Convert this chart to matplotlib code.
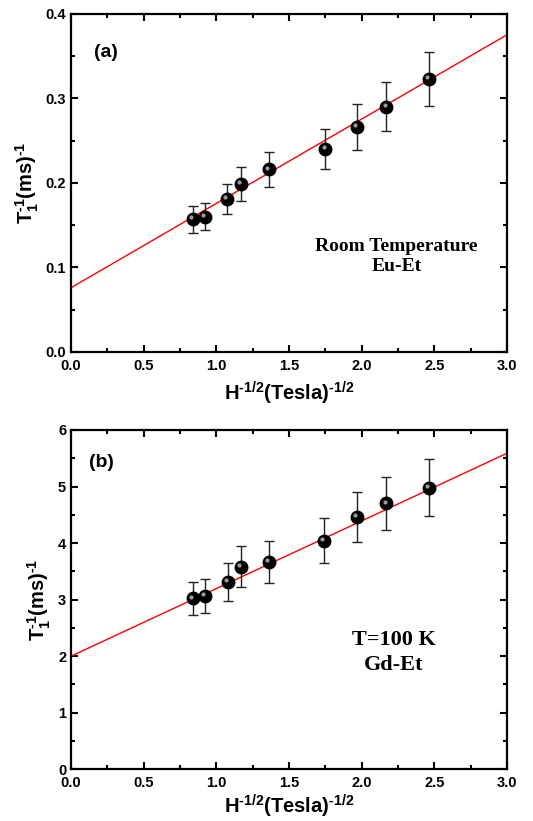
import numpy as np
import matplotlib
matplotlib.use('Agg')
import matplotlib.pyplot as plt
import matplotlib.transforms as mtransforms
from matplotlib.ticker import MultipleLocator

# data
h_a = [0.84, 0.92, 1.07, 1.17, 1.36, 1.75, 1.97, 2.17, 2.46]
rate_a = [0.157, 0.160, 0.181, 0.199, 0.216, 0.240, 0.266, 0.290, 0.323]
err_a = [0.016, 0.016, 0.018, 0.020, 0.021, 0.024, 0.027, 0.029, 0.032]
fit_a = (0.076, 0.0998)  # intercept, slope

h_b = [0.84, 0.92, 1.08, 1.17, 1.36, 1.74, 1.97, 2.17, 2.46]
rate_b = [3.02, 3.06, 3.31, 3.58, 3.67, 4.04, 4.46, 4.70, 4.98]
err_b = [0.30, 0.30, 0.33, 0.36, 0.37, 0.40, 0.45, 0.47, 0.50]
fit_b = (2.0, 1.196)

plt.rcParams['font.family'] = 'Liberation Sans'
plt.rcParams['font.weight'] = 'bold'
plt.rcParams['mathtext.fontset'] = 'custom'
plt.rcParams['mathtext.rm'] = 'Liberation Sans:bold'
plt.rcParams['mathtext.bf'] = 'Liberation Sans:bold'
plt.rcParams['mathtext.default'] = 'bf'

XLAB = r'H$^{\text{-1/2}}$(Tesla)$^{\text{-1/2}}$'
YLAB = r'T$_1^{\text{-1}}$(ms)$^{\text{-1}}$'

fig = plt.figure(figsize=(5.33, 8.21), dpi=100)
ax1 = fig.add_axes([0.1332, 0.5713, 0.818, 0.4117])
ax2 = fig.add_axes([0.1332, 0.0630, 0.818, 0.4133])


def panel(ax, x, y, e, fit, ymax, ymajor, yminor, yfmt, tag, tag_xy, note, note_xy,
          note_size, note_ls, xpad, ypad):
    xx = np.array([0.0, 3.0])
    ax.plot(xx, fit[0] + fit[1] * xx, color='red', lw=1.0, zorder=2)
    ax.errorbar(x, y, yerr=e, fmt='none', ecolor='#222222', elinewidth=1.0,
                capsize=3.5, capthick=1.0, zorder=3)
    ax.plot(x, y, 'o', color='black', ms=9, zorder=4)
    # small highlight to mimic the shaded spheres
    hl = mtransforms.offset_copy(ax.transData, fig=fig, x=-1.3, y=1.3, units='points')
    ax.plot(x, y, 'o', color='#9a9a9a', ms=3.0, mec='none', transform=hl, zorder=5)

    ax.set_xlim(0, 3.0)
    ax.set_ylim(0, ymax)
    ax.xaxis.set_major_locator(MultipleLocator(0.5))
    ax.xaxis.set_minor_locator(MultipleLocator(0.25))
    ax.yaxis.set_major_locator(MultipleLocator(ymajor))
    ax.yaxis.set_minor_locator(MultipleLocator(yminor))
    ax.yaxis.set_major_formatter(yfmt)
    ax.xaxis.set_major_formatter('{x:.1f}')
    ax.tick_params(which='both', direction='in', top=True, right=True, width=1.5,
                   labelsize=10.5)
    ax.tick_params(axis='x', pad=5)
    ax.tick_params(which='major', length=5)
    ax.tick_params(which='minor', length=3)
    for s in ax.spines.values():
        s.set_linewidth(1.6)
    ax.set_xlabel(XLAB, fontsize=14.5, fontweight='bold', labelpad=xpad)
    ax.set_ylabel(YLAB, fontsize=14.5, fontweight='bold', labelpad=ypad)
    ax.text(tag_xy[0], tag_xy[1], tag, transform=ax.transAxes, fontsize=14,
            fontweight='bold', va='center')
    ax.text(note_xy[0], note_xy[1], note, transform=ax.transData, ha='center', va='center',
            family='Liberation Serif', fontweight='bold', fontsize=note_size,
            linespacing=note_ls)


panel(ax1, h_a, rate_a, err_a, fit_a, 0.4, 0.1, 0.05, '{x:.1f}', '(a)', (0.052, 0.885),
      'Room Temperature\nEu-Et', (2.24, 0.1128), 14, 1.2, 5, 3)
panel(ax2, h_b, rate_b, err_b, fit_b, 6, 1, 0.5, '{x:.0f}', '(b)', (0.042, 0.903),
      'T=100 K\nGd-Et', (2.22, 2.06), 16, 1.35, 2, 3.5)

fig.savefig('out.png', dpi=100)
